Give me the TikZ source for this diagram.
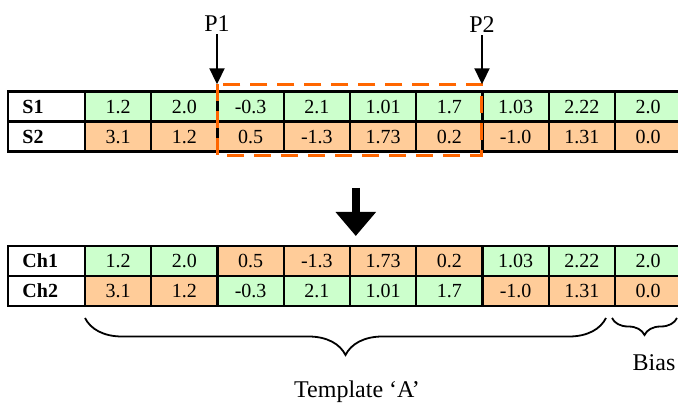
\documentclass[tikz,border=0pt]{standalone}
\usepackage{fontspec}
\setmainfont{Liberation Serif}
\usetikzlibrary{arrows.meta,decorations.pathreplacing}

\definecolor{genegreen}{RGB}{204,255,204}
\definecolor{geneorange}{RGB}{255,204,153}
\definecolor{cutorange}{RGB}{255,102,0}

\tikzset{
    cell/.style={draw, line width=2.4pt, minimum width=66.25pt, minimum height=30pt, inner sep=0pt, font=\fontsize{20}{24}\selectfont},
    g/.style={cell, fill=genegreen},
    o/.style={cell, fill=geneorange},
    namecell/.style={draw, line width=2.4pt, minimum width=77pt, minimum height=30pt, inner xsep=14.5pt, inner ysep=0pt, text width=48pt, align=left, font=\fontsize{20}{24}\selectfont\bfseries},
    lab/.style={anchor=base, inner sep=2pt, font=\fontsize{24}{28}\selectfont}
}

\begin{document}
\begin{tikzpicture}[x=1pt, y=-1pt]
    \useasboundingbox (0,0) rectangle (678,403);
    % Parents
    \node[namecell] (s1) at (46.5,106.7) {S1};
    \node[namecell] (s2) at (46.5,136.7) {S2};
    \foreach \v [count=\i] in {1.2,2.0,-0.3,2.1,1.01,1.7,1.03,2.22,2.0}
        \node[g] (s1c\i) at ({85+66.25*(\i-0.5)},106.7) {\v};
    \foreach \v [count=\i] in {3.1,1.2,0.5,-1.3,1.73,0.2,-1.0,1.31,0.0}
        \node[o] (s2c\i) at ({85+66.25*(\i-0.5)},136.7) {\v};
    % Crossover points
    \draw[cutorange, line width=3pt, dash pattern=on 17pt off 10pt] (217.5,84.3) rectangle (481.5,155.7);
    \node[lab] (p1) at (217,32) {P1};
    \node[lab] (p2) at (482,33) {P2};
    \coordinate (cut1) at (217,84.3);
    \coordinate (cut2) at (482,84.3);
    \draw[line width=2pt, -{Triangle[length=16pt,width=15pt]}] (p1.south) -- (cut1);
    \draw[line width=2pt, -{Triangle[length=16pt,width=15pt]}] (p2.south) -- (cut2);
    % Big arrow
    \coordinate (bigtop) at (355.8,188);
    \coordinate (bigtip) at (355.8,236);
    \draw[line width=8.5pt, -{Triangle[length=24pt,width=39pt]}] (bigtop) -- (bigtip);
    % Children
    \node[namecell] (ch1) at (46.5,261) {Ch1};
    \node[namecell] (ch2) at (46.5,291) {Ch2};
    \foreach \v/\col [count=\i] in {1.2/g,2.0/g,0.5/o,-1.3/o,1.73/o,0.2/o,1.03/g,2.22/g,2.0/g}
        \node[\col] (ch1c\i) at ({85+66.25*(\i-0.5)},261) {\v};
    \foreach \v/\col [count=\i] in {3.1/o,1.2/o,-0.3/g,2.1/g,1.01/g,1.7/g,-1.0/o,1.31/o,0.0/o}
        \node[\col] (ch2c\i) at ({85+66.25*(\i-0.5)},291) {\v};
    % Braces
    \draw[line width=1.8pt, decorate, decoration={brace, mirror, amplitude=37pt}] (85,318) -- (606,318);
    \draw[line width=1.8pt, decorate, decoration={brace, mirror, amplitude=17pt}] (612,318) -- (677,318);
    \node[lab] (tmpl) at (357,398) {Template `A'};
    \node[lab] (bias) at (654,371) {Bias};
\end{tikzpicture}
\end{document}
